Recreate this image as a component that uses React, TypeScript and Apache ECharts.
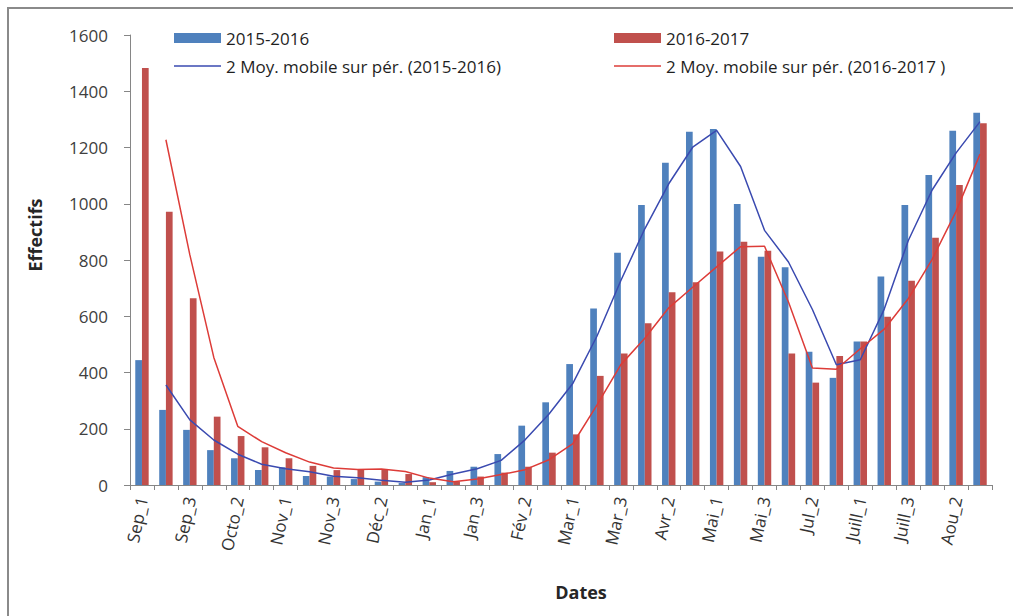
import React, { useEffect, useRef } from "react";
import * as echarts from "echarts";

const categories = [
  "Sep_1", "Sep_2", "Sep_3", "Octo_1", "Octo_2", "Octo_3",
  "Nov_1", "Nov_2", "Nov_3", "Déc_1", "Déc_2", "Déc_3",
  "Jan_1", "Jan_2", "Jan_3", "Fév_1", "Fév_2", "Fév_3",
  "Mar_1", "Mar_2", "Mar_3", "Avr_1", "Avr_2", "Avr_3",
  "Mai_1", "Mai_2", "Mai_3", "Jul_1", "Jul_2", "Jul_3",
  "Juill_1", "Juill_2", "Juill_3", "Aou_1", "Aou_2", "Aou_3",
];

const values2015 = [
  444, 267, 196, 124, 95, 53, 63, 32, 30, 21, 12, 7,
  28, 50, 65, 110, 211, 294, 430, 628, 826, 996, 1146, 1256,
  1266, 999, 812, 774, 474, 381, 510, 741, 996, 1102, 1260, 1324,
];

const values2016 = [
  1483, 972, 664, 243, 174, 134, 95, 68, 53, 57, 57, 39,
  10, 13, 30, 44, 65, 115, 180, 388, 468, 575, 685, 721,
  830, 865, 833, 468, 364, 459, 510, 598, 726, 879, 1067, 1286,
];

// 2-period moving average trendlines (as drawn in the reference)
const movingAvg2015 = [
  null, 355.5, 231.5, 160, 109.5, 74, 58, 47.5, 31, 25.5, 16.5, 9.5,
  17.5, 39, 57.5, 87.5, 160.5, 252.5, 362, 529, 727, 911, 1071, 1201,
  1261, 1132.5, 905.5, 793, 624, 427.5, 445.5, 625.5, 868.5, 1049, 1181, 1292,
];

const movingAvg2016 = [
  null, 1227.5, 818, 453.5, 208.5, 154, 114.5, 81.5, 60.5, 55, 57, 48,
  24.5, 11.5, 21.5, 37, 54.5, 90, 147.5, 284, 428, 521.5, 630, 703,
  775.5, 847.5, 849, 650.5, 416, 411.5, 484.5, 554, 662, 802.5, 973, 1176.5,
];

const yTicks = { min: 0, max: 1600, interval: 200 };

const FONT = "'Open Sans', 'Liberation Sans', sans-serif";
const LINE_ICON = "path://M0,0 L47,0 L47,1.5 L0,1.5 Z";

export default function App() {
  const ref = useRef<HTMLDivElement>(null);

  useEffect(() => {
    if (!ref.current) return;
    const chart = echarts.init(ref.current, undefined, { renderer: "svg" });
    const legendText = { fontFamily: FONT, fontSize: 17, color: "#1f1f1f", lineHeight: 20 };
    chart.setOption({
      animation: false,
      backgroundColor: "#ffffff",
      grid: { left: 130, right: 21, top: 35, bottom: 131, containLabel: false },
      legend: [
        {
          left: 169,
          top: 23,
          orient: "vertical",
          itemWidth: 47,
          itemHeight: 10,
          itemGap: 8,
          symbolKeepAspect: true,
          textStyle: legendText,
          data: [
            { name: "2015-2016", icon: "rect" },
            { name: "2 Moy. mobile sur pér. (2015-2016)", icon: LINE_ICON },
          ],
        },
        {
          left: 609,
          top: 23,
          orient: "vertical",
          itemWidth: 47,
          itemHeight: 10,
          itemGap: 8,
          symbolKeepAspect: true,
          textStyle: legendText,
          data: [
            { name: "2016-2017", icon: "rect" },
            { name: "2 Moy. mobile sur pér. (2016-2017 )", icon: LINE_ICON },
          ],
        },
      ],
      xAxis: {
        type: "category",
        data: categories,
        boundaryGap: true,
        axisLine: { lineStyle: { color: "#868686", width: 1 } },
        axisTick: { show: true, alignWithLabel: false, interval: 0, length: 5, lineStyle: { color: "#868686" } },
        axisLabel: {
          interval: 1,
          rotate: 78,
          margin: 12,
          fontFamily: FONT,
          fontSize: 17,
          color: "#333333",
        },
        splitLine: { show: false },
      },
      yAxis: {
        type: "value",
        min: yTicks.min,
        max: yTicks.max,
        interval: yTicks.interval,
        axisLine: { show: true, lineStyle: { color: "#868686", width: 1 } },
        axisTick: { show: true, length: 6, lineStyle: { color: "#868686" } },
        axisLabel: {
          margin: 22,
          fontFamily: FONT,
          fontSize: 17,
          color: "#404040",
          formatter: (v: number) => String(v),
        },
        splitLine: { show: false },
      },
      series: [
        {
          name: "2015-2016",
          type: "bar",
          data: values2015,
          itemStyle: { color: "#4F81BD" },
          barGap: "0%",
          barCategoryGap: "44%",
        },
        {
          name: "2016-2017",
          type: "bar",
          data: values2016,
          itemStyle: { color: "#C0504D" },
          barGap: "0%",
          barCategoryGap: "44%",
        },
        {
          name: "2 Moy. mobile sur pér. (2015-2016)",
          type: "line",
          data: movingAvg2015,
          symbol: "none",
          lineStyle: { color: "#3A4AB0", width: 1.5 },
          itemStyle: { color: "#3A4AB0" },
          z: 5,
        },
        {
          name: "2 Moy. mobile sur pér. (2016-2017 )",
          type: "line",
          data: movingAvg2016,
          symbol: "none",
          lineStyle: { color: "#DD3C38", width: 1.5 },
          itemStyle: { color: "#DD3C38" },
          z: 5,
        },
      ],
      graphic: [
        {
          type: "rect",
          shape: { x: 8, y: 8, width: 1200, height: 800 },
          style: { fill: "none", stroke: "#8a8a8a", lineWidth: 2 },
          silent: true,
        },
        {
          type: "text",
          x: 35,
          y: 235,
          rotation: Math.PI / 2,
          style: {
            text: "Effectifs",
            fontFamily: FONT,
            fontSize: 18,
            fontWeight: "bold",
            fill: "#262626",
            align: "center",
            verticalAlign: "middle",
          },
        },
        {
          type: "text",
          x: 581,
          y: 592,
          style: {
            text: "Dates",
            fontFamily: FONT,
            fontSize: 18,
            fontWeight: "bold",
            fill: "#262626",
            align: "center",
            verticalAlign: "middle",
          },
        },
      ],
    });
    return () => chart.dispose();
  }, []);

  return (
    <div
      ref={ref}
      style={{ position: "fixed", left: 0, top: 0, width: 1013, height: 616 }}
    />
  );
}
